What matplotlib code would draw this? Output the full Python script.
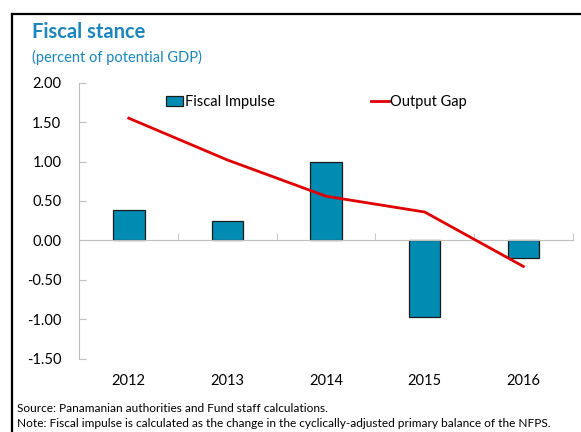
import matplotlib.pyplot as plt
import matplotlib.transforms as mtransforms
from matplotlib.patches import Rectangle
from matplotlib.lines import Line2D

plt.rcParams['font.family'] = ['Lato', 'DejaVu Sans']

# datos
years = ['2012', '2013', '2014', '2015', '2016']
fiscal_impulse = [0.38, 0.25, 0.99, -0.97, -0.22]
output_gap = [1.55, 1.02, 0.56, 0.36, -0.33]
yticks = [2.0, 1.5, 1.0, 0.5, 0.0, -0.5, -1.0, -1.5]

BAR_COLOR = '#008bb2'
LINE_COLOR = '#e00000'
TITLE_COLOR = '#1a86bd'
GREY = '#bfbfbf'

fig = plt.figure(figsize=(5.81, 4.32), dpi=100)
ax = fig.add_axes([0.1367, 0.1697, 0.849, 0.6389])

x = list(range(len(years)))
ax.bar(x, fiscal_impulse, width=0.32, color=BAR_COLOR, edgecolor='#1a1a1a',
       linewidth=0.9, zorder=2)
ax.plot(x, output_gap, color=LINE_COLOR, linewidth=2.0, zorder=3)

ax.set_xlim(-0.5, len(years) - 0.5)
ax.set_ylim(-1.5, 2.0)
ax.set_yticks(yticks)
ax.set_yticklabels([f'{v:.2f}' for v in yticks], fontsize=10.5)

# eixos
for s in ['top', 'right']:
    ax.spines[s].set_visible(False)
ax.spines['left'].set_color(GREY)
ax.spines['bottom'].set_color(GREY)
ax.spines['bottom'].set_position(('data', 0))
ax.tick_params(axis='y', direction='in', length=5, color=GREY, pad=13)
ax.set_xticks([])
ax.set_xticks([i + 0.5 for i in x], minor=True)
ax.tick_params(axis='x', which='minor', direction='in', length=5, color=GREY,
               labelbottom=False)

# rótulos dos anos
trans = mtransforms.blended_transform_factory(ax.transData, ax.transAxes)
for i, y in zip(x, years):
    ax.text(i, -0.08, y, transform=trans, ha='center', va='center', fontsize=10.5)

# legenda
leg_handles = [Rectangle((0, 0), 1, 1, facecolor=BAR_COLOR, edgecolor='#1a1a1a', linewidth=0.9),
               Line2D([0], [0], color=LINE_COLOR, linewidth=2.0)]
ax.legend(leg_handles, ['Fiscal Impulse', 'Output Gap'], loc='upper left',
          bbox_to_anchor=(0.1755, 0.955), ncol=2, frameon=False, fontsize=10.5,
          borderpad=0, borderaxespad=0,
          handlelength=1.2, handleheight=0.7, handletextpad=0.1, columnspacing=6.6)

# título
fig.text(32 / 581, 1 - 38 / 432, 'Fiscal stance', color=TITLE_COLOR, fontsize=14.5,
         fontweight='bold', ha='left', va='baseline')
fig.text(32 / 581, 1 - 62 / 432, '(percent of potential GDP)', color=TITLE_COLOR,
         fontsize=10.5, ha='left', va='baseline')

# notas
fig.text(17 / 581, 1 - 412 / 432, 'Source: Panamanian authorities and Fund staff calculations.',
         fontsize=8.6, ha='left', va='baseline')
fig.text(17 / 581, 1 - 427 / 432,
         'Note: Fiscal impulse is calculated as the change in the cyclically-adjusted primary balance of the NFPS.',
         fontsize=8.6, ha='left', va='baseline')

# moldura
fig.add_artist(Line2D([11.5 / 581, 11.5 / 581], [0, 1 - 14 / 432], color='black',
                      linewidth=1.6, transform=fig.transFigure))
fig.add_artist(Line2D([11.5 / 581, 1], [1 - 14 / 432, 1 - 14 / 432], color='black',
                      linewidth=1.6, transform=fig.transFigure))

fig.savefig('out.png', dpi=100)
